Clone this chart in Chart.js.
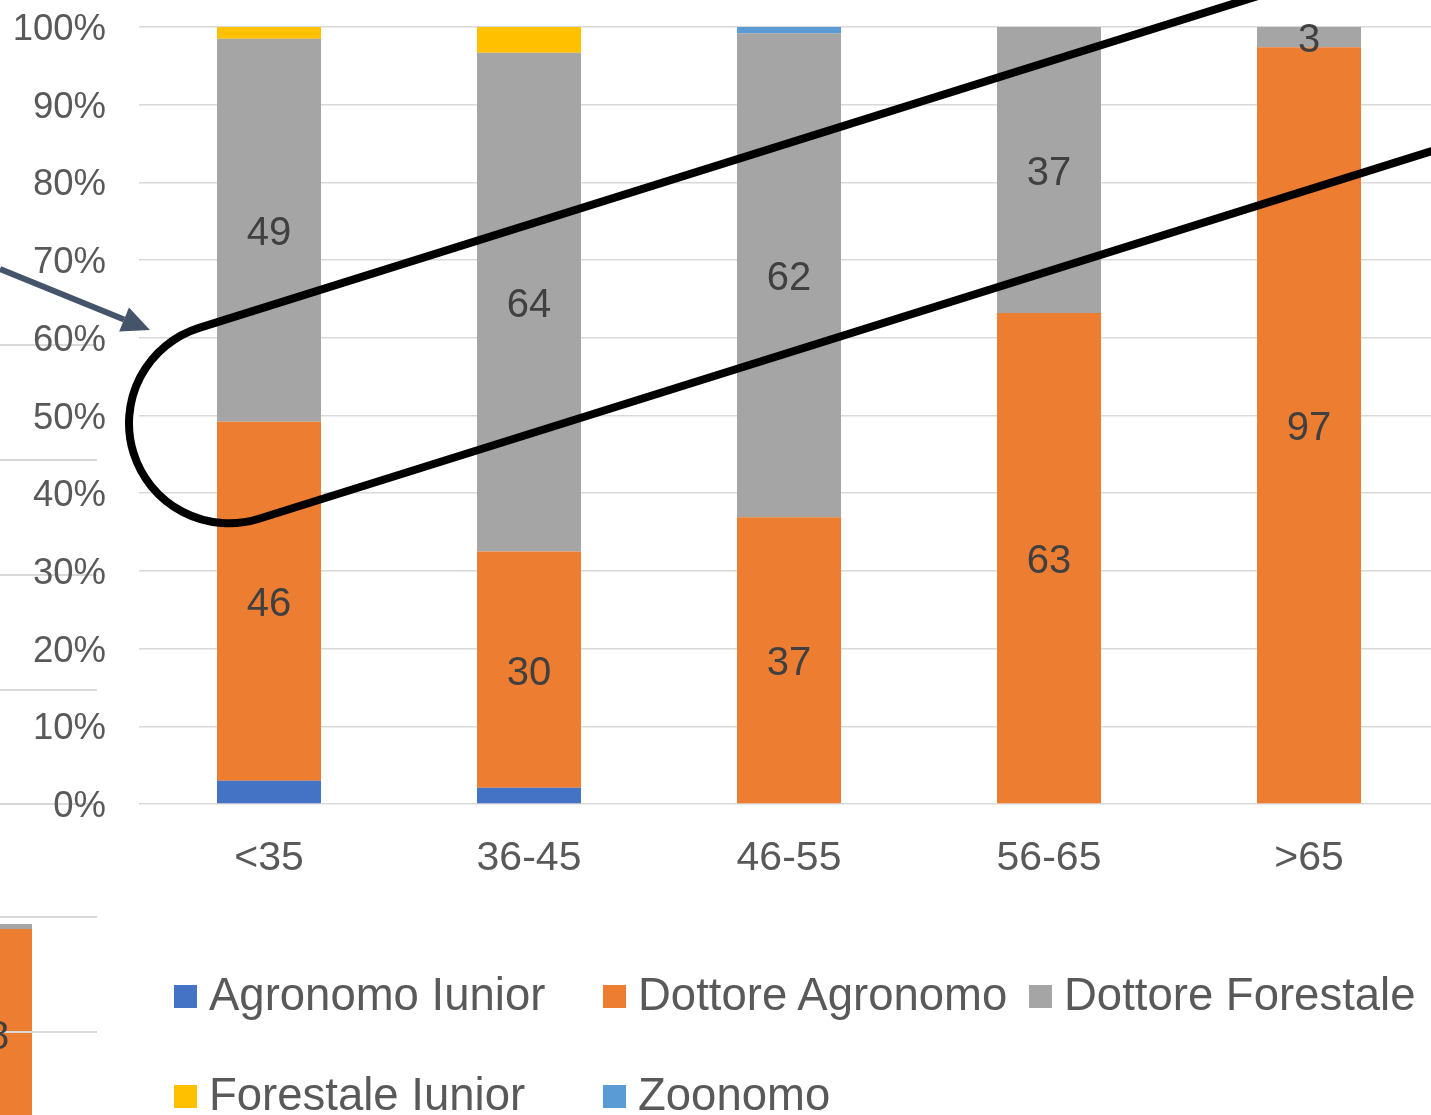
<!DOCTYPE html>
<html>
<head>
<meta charset="utf-8">
<title>Età e sezione</title>
<script src="https://cdn.jsdelivr.net/npm/chart.js@4.4.1/dist/chart.umd.min.js"></script>
<style>
  html, body { margin: 0; padding: 0; background: #fff; overflow: hidden; }
  #wrap { position: relative; width: 1431px; height: 1115px; overflow: hidden; font-family: "Liberation Sans", Arial, sans-serif; }
  #chart { position: absolute; left: 0; top: 0; }
  .bgline { position: absolute; left: 0; width: 97px; height: 2px; background: #d9d9d9; }
  .bgbar { position: absolute; left: 0; top: 924px; width: 32px; height: 200px; background: #ed7d31; border-top: 5px solid #a5a5a5; }
  .bgtext { position: absolute; left: -13px; top: 1011px; font-size: 40px; line-height: 48px; color: #404040; }
  .legend-item { position: absolute; height: 50px; white-space: nowrap; color: #595959; font-size: 45.5px; line-height: 45.5px; }
  .legend-item .box { position: absolute; left: 0; top: 13px; width: 23px; height: 23px; }
  .legend-item .txt { position: absolute; left: 35px; top: 0; }
</style>
</head>
<body>
<div id="wrap">
  <canvas id="chart" width="1440" height="1115"></canvas>
  <div id="legend"></div>
</div>
<script>
var categories = ['<35', '36-45', '46-55', '56-65', '>65']
var seriesNames = ['Agronomo Iunior', 'Dottore Agronomo', 'Dottore Forestale', 'Forestale Iunior', 'Zoonomo']
var seriesColors = ['#4472c4', '#ed7d31', '#a5a5a5', '#ffc000', '#5b9bd5']

// percent share of each section per age class
var agronomoIunior = [3.0, 2.1, 0, 0, 0]
var dottoreAgronomo = [46.2, 30.4, 36.9, 63.2, 97.4]
var dottoreForestale = [49.3, 64.2, 62.3, 36.8, 2.6]
var forestaleIunior = [1.5, 3.3, 0, 0, 0]
var zoonomo = [0, 0, 0.8, 0, 0]

var yTicks = [0, 10, 20, 30, 40, 50, 60, 70, 80, 90, 100]
var labelledSeries = [1, 2]

var FONT = '"Liberation Sans", Arial, sans-serif'
Chart.defaults.font.family = FONT

// faint pieces of the neighbouring chart on the left edge
var wrap = document.getElementById('wrap')
;[345, 460, 575, 690, 804, 917, 1032].forEach(function (y) {
  var d = document.createElement('div')
  d.className = 'bgline'
  d.style.top = (y - 1) + 'px'
  wrap.insertBefore(d, wrap.firstChild)
})
var frag = document.createElement('div')
frag.className = 'bgbar'
wrap.insertBefore(frag, wrap.firstChild)
var fragTxt = document.createElement('div')
fragTxt.className = 'bgtext'
fragTxt.textContent = '8'
wrap.appendChild(fragTxt)

var barLabels = {
  id: 'barLabels',
  afterDatasetsDraw: function (chart) {
    var c = chart.ctx
    c.save()
    c.font = '40px ' + FONT
    c.fillStyle = '#404040'
    c.textAlign = 'center'
    c.textBaseline = 'middle'
    labelledSeries.forEach(function (di) {
      var meta = chart.getDatasetMeta(di)
      meta.data.forEach(function (bar, i) {
        var v = chart.data.datasets[di].data[i]
        if (!v) return
        var p = bar.getProps(['x', 'y', 'base'], true)
        c.fillText(String(Math.round(v)), p.x, (p.y + p.base) / 2 + 4)
      })
    })
    c.restore()
  }
}

var callout = {
  id: 'callout',
  afterDraw: function (chart) {
    var c = chart.ctx
    var xs = chart.scales.x, ys = chart.scales.y
    var cx = xs.getPixelForValue(0) - 40
    var cy = ys.getPixelForValue(49)
    var r = 100
    var ang = -17.4 * Math.PI / 180

    c.save()
    c.translate(cx, cy)
    c.rotate(ang)
    c.beginPath()
    c.moveTo(2000, -r)
    c.lineTo(0, -r)
    c.arc(0, 0, r, -Math.PI / 2, Math.PI / 2, true)
    c.lineTo(2000, r)
    c.strokeStyle = '#000'
    c.lineWidth = 8
    c.lineJoin = 'round'
    c.stroke()
    c.restore()

    // arrow pointing at the loop
    var x0 = 0, y0 = 269
    var x1 = xs.left + 11, y1 = 330
    var a = Math.atan2(y1 - y0, x1 - x0)
    var hl = 28, hw = 13
    var bx = x1 - hl * Math.cos(a), by = y1 - hl * Math.sin(a)
    c.save()
    c.strokeStyle = '#44546a'
    c.fillStyle = '#44546a'
    c.lineWidth = 6
    c.beginPath()
    c.moveTo(x0, y0)
    c.lineTo(bx, by)
    c.stroke()
    c.beginPath()
    c.moveTo(x1, y1)
    c.lineTo(bx + hw * Math.sin(a), by - hw * Math.cos(a))
    c.lineTo(bx - hw * Math.sin(a), by + hw * Math.cos(a))
    c.closePath()
    c.fill()
    c.restore()
  }
}

var allSeries = [agronomoIunior, dottoreAgronomo, dottoreForestale, forestaleIunior, zoonomo]

var chart = new Chart(document.getElementById('chart'), {
  type: 'bar',
  data: {
    labels: categories,
    datasets: allSeries.map(function (vals, i) {
      return {
        label: seriesNames[i],
        data: vals,
        backgroundColor: seriesColors[i],
        borderWidth: 0,
        barPercentage: 0.4,
        categoryPercentage: 1
      }
    })
  },
  options: {
    responsive: false,
    animation: false,
    devicePixelRatio: 1,
    layout: { padding: { top: 0, left: 0, right: 1, bottom: 207 } },
    plugins: { legend: { display: false }, tooltip: { enabled: false } },
    scales: {
      x: {
        stacked: true,
        grid: { display: false, drawTicks: false },
        border: { display: false },
        ticks: { color: '#595959', font: { size: 41 }, padding: 30 },
        afterFit: function (s) { s.height = 104 }
      },
      y: {
        stacked: true,
        min: 0,
        max: 100,
        afterBuildTicks: function (s) { s.ticks = yTicks.map(function (v) { return { value: v } }) },
        grid: { color: '#d9d9d9', lineWidth: 1.5, drawTicks: false },
        border: { display: false },
        ticks: {
          color: '#595959',
          font: { size: 36.5 },
          padding: 33,
          labelOffset: 3,
          callback: function (v) { return v + '%' }
        },
        afterFit: function (s) {
          s.width = 139
          s.paddingTop = 27
          s.paddingBottom = 0
        }
      }
    }
  },
  plugins: [barLabels, callout]
})

// legend laid out in fixed columns like the original
var legend = document.getElementById('legend')
var colX = [174, 603, 1029]
var rowY = [972, 1072]
seriesNames.forEach(function (name, i) {
  var item = document.createElement('div')
  item.className = 'legend-item'
  item.style.left = colX[i % 3] + 'px'
  item.style.top = rowY[Math.floor(i / 3)] + 'px'
  var box = document.createElement('span')
  box.className = 'box'
  box.style.background = seriesColors[i]
  var txt = document.createElement('span')
  txt.className = 'txt'
  txt.textContent = name
  item.appendChild(box)
  item.appendChild(txt)
  wrap.appendChild(item)
})
</script>
</body>
</html>
